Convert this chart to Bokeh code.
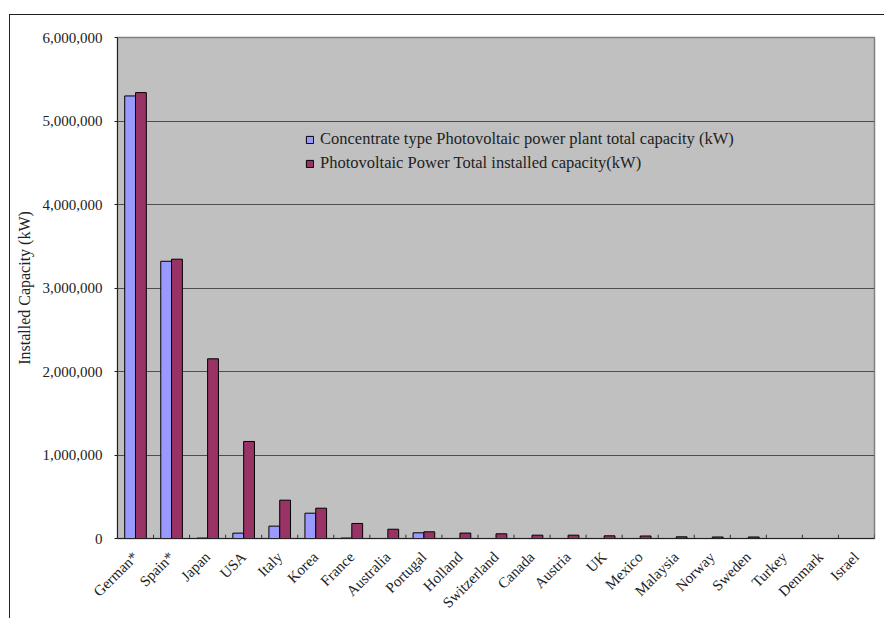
from bokeh.plotting import figure
from bokeh.models import Range1d, FixedTicker, NumeralTickFormatter, Legend, LegendItem, ColumnDataSource
from bokeh.embed import file_html
from bokeh.resources import INLINE
import math

countries = ["German*", "Spain*", "Japan", "USA", "Italy", "Korea", "France", "Australia",
             "Portugal", "Holland", "Switzerland", "Canada", "Austria", "UK", "Mexico",
             "Malaysia", "Norway", "Sweden", "Turkey", "Denmark", "Israel"]
concentrate_kw = [5300000, 3320000, 5000, 64000, 148000, 303000, 5000, 0,
                  68000, 0, 0, 0, 0, 0, 0,
                  0, 0, 0, 0, 0, 0]
total_kw = [5340000, 3345000, 2152000, 1162000, 459000, 363000, 180000, 111000,
            80000, 65000, 56000, 40000, 40000, 32000, 30000,
            20000, 18000, 18000, 0, 0, 0]
y_ticks = [0, 1000000, 2000000, 3000000, 4000000, 5000000, 6000000]
series_names = ["Concentrate type Photovoltaic power plant total capacity (kW)",
                "Photovoltaic Power Total installed capacity(kW)"]

FONT = "Liberation Serif"
n = len(countries)
centers = [i + 0.5 for i in range(n)]
bar_w = 0.3

src = ColumnDataSource(dict(
    xb=[c - bar_w / 2 for c in centers],
    xr=[c + bar_w / 2 for c in centers],
    blue=concentrate_kw,
    red=total_kw,
))

p = figure(width=875, height=604, output_backend="svg", toolbar_location=None,
           x_range=Range1d(0, n), y_range=Range1d(0, 6000000),
           min_border_left=107, min_border_right=11, min_border_top=22, min_border_bottom=81,
           background_fill_color="#C0C0C0", border_fill_color="white",
           outline_line_color="#808080", outline_line_width=1.5,
           margin=(14, 0, 0, 9),
           styles={"border-top": "1px solid #222", "border-left": "1px solid #222"})

rb = p.vbar(x="xb", top="blue", width=bar_w, source=src, fill_color="#9999FF", line_color="black", line_width=1)
rr = p.vbar(x="xr", top="red", width=bar_w, source=src, fill_color="#993366", line_color="black", line_width=1)

# category boundary ticks on x axis (inside)
bounds = list(range(n + 1))
p.segment(x0=bounds, x1=bounds, y0=[0] * len(bounds), y1=[45000] * len(bounds), line_color="#333333", line_width=1)

p.xgrid.visible = False
p.ygrid.grid_line_color = "#4d4d4d"
p.ygrid.grid_line_width = 1.2
p.ygrid.ticker = FixedTicker(ticks=y_ticks)

xa = p.xaxis[0]
xa.ticker = FixedTicker(ticks=centers)
xa.major_label_overrides = {c: name for c, name in zip(centers, countries)}
xa.major_label_orientation = math.pi / 4
xa.major_tick_line_color = None
xa.minor_tick_line_color = None
xa.axis_line_color = "#222222"
xa.major_label_text_font = FONT
xa.major_label_text_font_size = "15px"
xa.major_label_text_color = "#222222"
xa.major_label_standoff = 10

ya = p.yaxis[0]
ya.ticker = FixedTicker(ticks=y_ticks)
ya.formatter = NumeralTickFormatter(format="0,0")
ya.major_tick_out = 3
ya.major_tick_in = 0
ya.minor_tick_line_color = None
ya.axis_line_color = "#222222"
ya.major_tick_line_color = "#222222"
ya.major_label_text_font = FONT
ya.major_label_text_font_size = "15px"
ya.major_label_text_color = "#222222"
ya.major_label_standoff = 12
ya.axis_label = "Installed Capacity (kW)"
ya.axis_label_text_font = FONT
ya.axis_label_text_font_size = "16px"
ya.axis_label_text_font_style = "normal"
ya.axis_label_text_color = "#222222"
ya.axis_label_standoff = 7

legend = Legend(items=[LegendItem(label=series_names[0], renderers=[rb]),
                       LegendItem(label=series_names[1], renderers=[rr])],
                location=(188, 365), background_fill_alpha=0, border_line_color=None,
                glyph_width=9, glyph_height=9, label_standoff=6, spacing=4, label_height=20,
                label_text_font=FONT, label_text_font_size="16.5px", label_text_color="#222222",
                padding=4, margin=0)
p.add_layout(legend, "center")

open("out.html", "w").write(file_html(p, INLINE))
